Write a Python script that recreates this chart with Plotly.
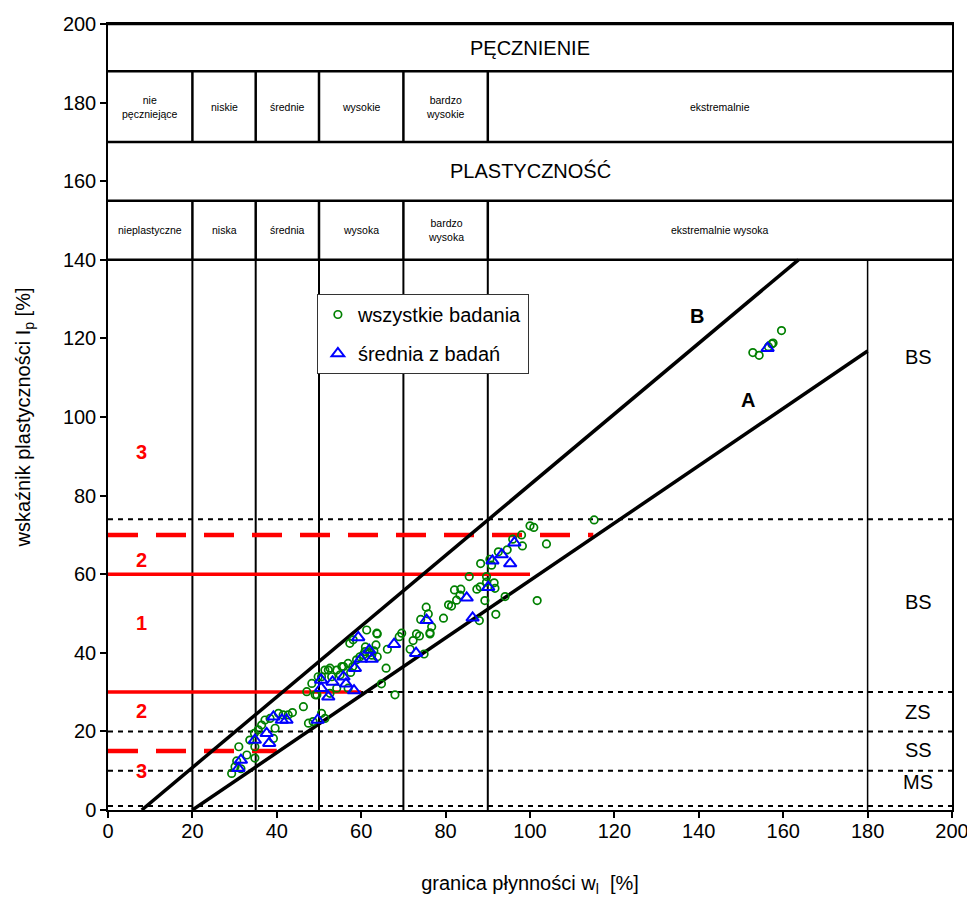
import plotly.graph_objects as go

# ---------------- data ----------------
all_x = [29.3, 30.1, 31.0, 32.9, 34.8, 33.6, 34.8, 34.7, 35.6, 36.4, 37.2, 38.4, 39.2, 39.6, 40.4, 41.5,
         42.7, 43.7, 46.3, 47.1, 48.3, 49.1, 47.5, 48.6, 50.6, 51.4, 50.6, 52.2, 53.0, 55.0, 55.8, 52.6,
         30.5, 31.5,
         57.3, 58.1, 61.3, 63.8, 63.5, 60.9, 62.5, 63.8, 59.7, 58.9, 56.9, 55.4, 54.2, 52.6, 51.4, 49.8,
         49.5, 54.2, 56.9, 64.8, 65.9, 68.0, 66.2, 69.0, 69.6, 71.6, 72.3, 73.1, 73.8, 74.9, 75.4, 75.9,
         74.1, 76.7, 76.3, 79.5, 80.7, 61.0, 62.0, 60.5, 63.0, 57.5, 58.0, 63.7,
         115.2, 100.0, 100.9, 98.0, 95.9, 98.2, 103.9, 94.6, 92.5, 90.5, 88.3, 90.9, 85.6, 89.7, 89.7, 91.5,
         91.7, 88.2, 87.4, 83.6, 82.1, 83.4, 82.6, 81.4, 89.3, 94.1, 101.7, 91.9, 88.0, 76.3,
         152.8, 154.3, 157.3, 157.6, 159.6, 156.5]
all_y = [9.3, 11.0, 16.1, 14.0, 13.2, 17.8, 16.1, 19.5, 20.4, 21.6, 22.9, 23.3, 18.2, 20.8, 24.6, 24.2,
         24.2, 24.8, 26.3, 30.1, 32.2, 29.3, 22.1, 22.5, 24.6, 23.3, 33.9, 35.6, 33.9, 34.4, 36.5, 29.7,
         12.5, 10.5,
         42.4, 43.3, 45.8, 44.8, 42.0, 40.3, 39.4, 39.0, 39.0, 38.2, 37.3, 36.5, 35.6, 36.1, 35.6, 33.9,
         29.3, 31.0, 31.0, 32.1, 36.1, 29.3, 40.9, 44.1, 45.0, 40.9, 43.1, 44.8, 44.3, 39.7, 51.6, 49.9,
         48.5, 46.6, 45.1, 48.8, 52.2, 41.5, 40.0, 39.5, 40.5, 35.0, 36.5, 45.0,
         73.8, 72.3, 71.9, 70.0, 68.9, 67.2, 67.7, 66.2, 65.7, 63.8, 62.7, 62.3, 59.4, 59.4, 58.0, 57.8,
         56.4, 56.8, 56.2, 56.2, 56.0, 54.7, 53.4, 51.9, 53.3, 54.3, 53.3, 49.8, 48.2, 44.8,
         116.4, 115.7, 118.6, 118.8, 122.0, 117.9]

mean_x = [30.9, 31.5, 34.8, 37.6, 38.2, 39.2, 41.2, 42.3, 49.7, 50.5, 50.5, 52.2, 53.2, 55.8, 59.3, 61.9,
          59.9, 62.5, 58.5, 56.4, 58.3, 67.8, 73.0, 75.5, 96.3, 93.3, 91.1, 95.3, 90.1, 85.0, 86.4, 156.3]
mean_y = [10.6, 12.7, 17.8, 19.5, 17.0, 23.7, 22.9, 22.9, 22.9, 33.1, 31.0, 28.8, 32.6, 33.9, 43.9, 40.7,
          38.4, 38.4, 36.1, 32.1, 30.4, 42.2, 39.9, 48.3, 68.0, 65.0, 63.4, 62.7, 56.7, 54.0, 48.9, 117.5]

line_A_x = [20, 180]
line_A_y = [0, 116.8]
line_B_x = [8, 163.6]
line_B_y = [0, 140]

class_bounds = [20, 35, 50, 70, 90]
bs_bound = 180
table_rows = [200, 188, 170, 155, 140]
dotted_levels = [74, 30, 20, 10, 1]

red_solid = [(60, 100), (30, 60)]     # (level, end x)
red_dashed = [(70, 115), (15, 40)]

swelling_labels = ["nie<br>pęczniejące", "niskie", "średnie", "wysokie", "bardzo<br>wysokie", "ekstremalnie"]
plastic_labels = ["nieplastyczne", "niska", "średnia", "wysoka", "bardzo<br>wysoka", "ekstremalnie wysoka"]
label_centers = [10, 27.5, 42.5, 60, 80, 145]

red_numbers = ["3", "2", "1", "2", "3"]
red_number_y = [91, 63.6, 47.6, 25.2, 10]

zone_labels = ["BS", "BS", "ZS", "SS", "MS"]
zone_label_y = [115.3, 52.9, 25, 15.3, 7.1]

FONT = "Liberation Sans, Arial, sans-serif"

fig = go.Figure()

shapes = []
# dotted horizontal levels
for lv in dotted_levels:
    shapes.append(dict(type="line", xref="x", yref="y", x0=0, x1=200, y0=lv, y1=lv,
                       line=dict(color="black", width=2, dash="5px,5px"), layer="below"))
# vertical class lines in plot area
for xb in class_bounds + [bs_bound]:
    shapes.append(dict(type="line", xref="x", yref="y", x0=xb, x1=xb, y0=0, y1=140,
                       line=dict(color="black", width=2 if xb != bs_bound else 1.5), layer="below"))
# table horizontal lines
for ry in table_rows:
    shapes.append(dict(type="line", xref="x", yref="y", x0=0, x1=200, y0=ry, y1=ry,
                       line=dict(color="black", width=2.5), layer="below"))
# table sub-row verticals
for (ya, yb) in [(table_rows[1], table_rows[2]), (table_rows[3], table_rows[4])]:
    for xb in class_bounds:
        shapes.append(dict(type="line", xref="x", yref="y", x0=xb, x1=xb, y0=ya, y1=yb,
                           line=dict(color="black", width=2.5), layer="below"))
# red lines
for lv, xe in red_solid:
    shapes.append(dict(type="line", xref="x", yref="y", x0=0, x1=xe, y0=lv, y1=lv,
                       line=dict(color="red", width=3.5), layer="below"))
for lv, xe in red_dashed:
    shapes.append(dict(type="line", xref="x", yref="y", x0=0, x1=xe, y0=lv, y1=lv,
                       line=dict(color="red", width=4.5, dash="30px,18px"), layer="below"))

# A and B lines
fig.add_trace(go.Scatter(x=line_A_x, y=line_A_y, mode="lines", line=dict(color="black", width=3.5),
                         showlegend=False, hoverinfo="skip"))
fig.add_trace(go.Scatter(x=line_B_x, y=line_B_y, mode="lines", line=dict(color="black", width=3.5),
                         showlegend=False, hoverinfo="skip"))

fig.add_trace(go.Scatter(x=all_x, y=all_y, mode="markers", name="wszystkie badania",
                         legendgroup="a",
                         marker=dict(symbol="circle-open", size=7.5, color="#008000",
                                     line=dict(width=1.7, color="#008000"))))
fig.add_trace(go.Scatter(x=mean_x, y=mean_y, mode="markers", name="średnia z badań",
                         legendgroup="b",
                         marker=dict(symbol="triangle-up-open", size=11, color="#0000FF",
                                     line=dict(width=2, color="#0000FF"))))

ann = []
ann.append(dict(x=100, y=194, text="PĘCZNIENIE", font=dict(size=20)))
ann.append(dict(x=100, y=162.6, text="PLASTYCZNOŚĆ", font=dict(size=20)))
for t, xc in zip(swelling_labels, label_centers):
    ann.append(dict(x=xc, y=179, text=t, font=dict(size=10.5)))
for t, xc in zip(plastic_labels, label_centers):
    ann.append(dict(x=xc, y=147.5, text=t, font=dict(size=10.5)))
for t, yy in zip(red_numbers, red_number_y):
    ann.append(dict(x=8, y=yy, text="<b>" + t + "</b>", font=dict(size=20, color="red")))
for t, yy in zip(zone_labels, zone_label_y):
    ann.append(dict(x=192, y=yy, text=t, font=dict(size=20)))
ann.append(dict(x=139.6, y=125.7, text="<b>B</b>", font=dict(size=20)))
ann.append(dict(x=151.7, y=104.3, text="<b>A</b>", font=dict(size=20)))
for a in ann:
    a.update(xref="x", yref="y", showarrow=False, xanchor="center", yanchor="middle")
    a["font"].setdefault("color", "black")
    a["font"]["family"] = FONT

fig.update_layout(
    width=967, height=892,
    margin=dict(l=100, r=23, t=16, b=90, autoexpand=False),
    paper_bgcolor="white", plot_bgcolor="white",
    font=dict(family=FONT, size=20, color="black"),
    shapes=shapes, annotations=ann,
    legend=dict(x=49.5 / 200, y=131.3 / 200, xanchor="left", yanchor="top",
                bgcolor="white", bordercolor="#333333", borderwidth=1,
                font=dict(size=20, family=FONT), tracegroupgap=10,
                itemwidth=30),
    xaxis=dict(range=[0, 200], dtick=20, tick0=0, showgrid=False, zeroline=False,
               showline=True, linecolor="black", linewidth=1.5, mirror=True,
               ticks="outside", ticklen=6, tickcolor="black", tickwidth=1.5,
               tickfont=dict(size=20), automargin=False, ticklabelstandoff=-4,
               title=dict(text="granica płynności w<sub>l</sub>  [%]", font=dict(size=20), standoff=35)),
    yaxis=dict(range=[0, 200], dtick=20, tick0=0, showgrid=False, zeroline=False,
               showline=True, linecolor="black", linewidth=1.5, mirror=True,
               ticks="outside", ticklen=6, tickcolor="black", tickwidth=1.5,
               tickfont=dict(size=20), automargin=False,
               title=dict(text="wskaźnik plastyczności I<sub>p</sub> [%]", font=dict(size=20), standoff=27)),
)

fig.write_html("out.html")
